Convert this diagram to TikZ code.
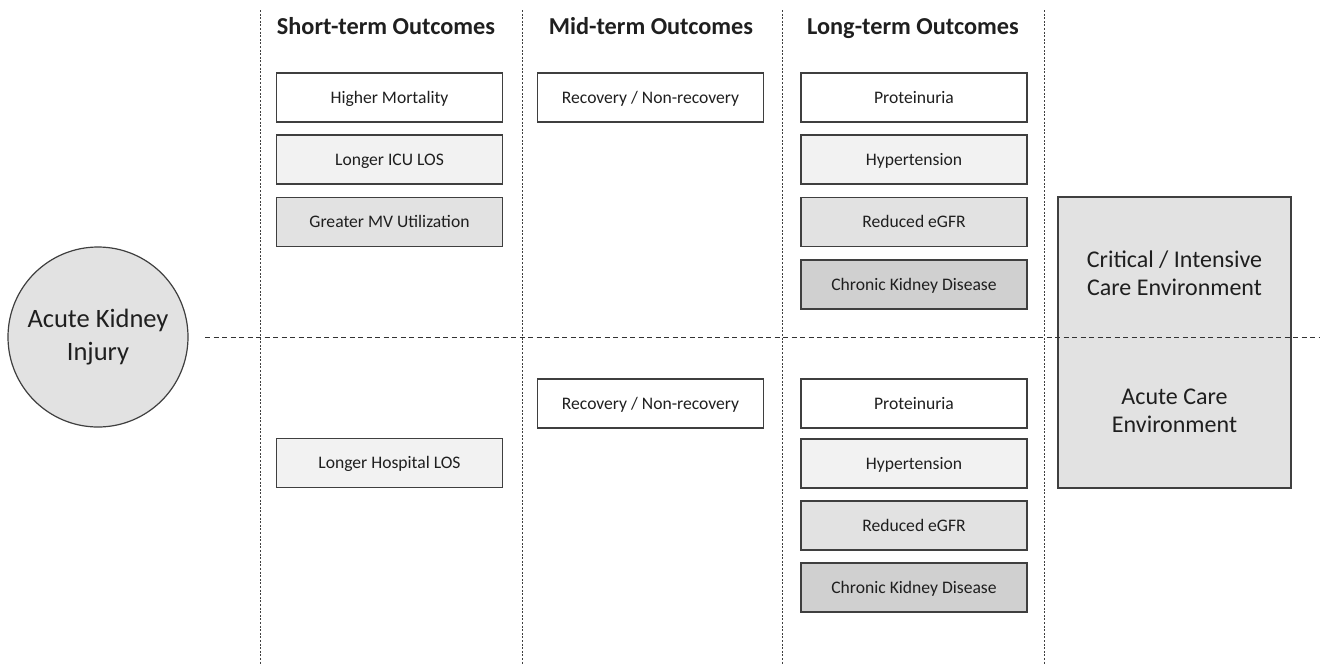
\documentclass[tikz,border=0pt]{standalone}
\usepackage{fontspec}
\setmainfont{Carlito}
\definecolor{edge}{HTML}{3F3F3F}
\definecolor{fillA}{HTML}{FFFFFF}
\definecolor{fillB}{HTML}{F2F2F2}
\definecolor{fillC}{HTML}{E2E2E2}
\definecolor{fillD}{HTML}{D0D0D0}
\begin{document}
\begin{tikzpicture}[x=1pt,y=-1pt,
  outbox/.style={draw=edge,line width=1.2pt,minimum width=226pt,minimum height=49pt,
    inner sep=0pt,text height=11.5pt,text depth=0pt,font=\fontsize{17.6}{20}\selectfont,text=black!88},
  header/.style={anchor=base,font=\bfseries\fontsize{24.3}{28}\selectfont,text=black!88},
  sep/.style={draw=black!75,line width=0.8pt,dash pattern=on 2pt off 1.6pt},
  divide/.style={draw=black!80,line width=1pt,dash pattern=on 5pt off 3.5pt}]
\useasboundingbox (0,0) rectangle (1320,665);
% column separators
\foreach \x/\n in {260/a,522/b,782/c,1044/d}{
  \coordinate (t\n) at (\x,10);
  \coordinate (b\n) at (\x,665);
  \draw[sep] (t\n) -- (b\n);
}
% horizontal divider between care settings
\coordinate (dl) at (205,337);
\coordinate (dr) at (1320,337);
% acute kidney injury
\node[circle,draw=edge,line width=1.2pt,fill=fillC,minimum size=180pt,inner sep=0pt,
  align=center,font=\fontsize{26.5}{33}\selectfont,text=black!88] (aki) at (98,337) {Acute Kidney\\Injury};
% column headings
\node[header] (hs) at (386,34) {Short-term Outcomes};
\node[header] (hm) at (651,34) {Mid-term Outcomes};
\node[header] (hl) at (913,34) {Long-term Outcomes};
% short-term outcomes
\node[outbox,fill=fillA] (s1) at (389.5,97.5) {Higher Mortality};
\node[outbox,fill=fillB] (s2) at (389.5,159.5) {Longer ICU LOS};
\node[outbox,fill=fillC] (s3) at (389.5,222) {Greater MV Utilization};
\node[outbox,fill=fillB] (s4) at (389.5,463) {Longer Hospital LOS};
% mid-term outcomes
\node[outbox,fill=fillA] (m1) at (650.5,97.5) {Recovery / Non-recovery};
\node[outbox,fill=fillA] (m2) at (650.5,403.5) {Recovery / Non-recovery};
% long-term outcomes, ICU setting
\node[outbox,fill=fillA] (l1) at (914,97.5) {Proteinuria};
\node[outbox,fill=fillB] (l2) at (914,159.5) {Hypertension};
\node[outbox,fill=fillC] (l3) at (914,222) {Reduced eGFR};
\node[outbox,fill=fillD] (l4) at (914,284.5) {Chronic Kidney Disease};
% long-term outcomes, acute care setting
\node[outbox,fill=fillA] (k1) at (914,403.5) {Proteinuria};
\node[outbox,fill=fillB] (k2) at (914,463.5) {Hypertension};
\node[outbox,fill=fillC] (k3) at (914,525.5) {Reduced eGFR};
\node[outbox,fill=fillD] (k4) at (914,587.5) {Chronic Kidney Disease};
% care environments
\node[draw=edge,line width=1.2pt,fill=fillC,minimum width=233pt,minimum height=291pt,inner sep=0pt] (env) at (1174.5,342.5) {};
\node[align=center,font=\fontsize{24}{28}\selectfont,text=black!88] (icu) at (1174.5,273) {Critical / Intensive\\Care Environment};
\node[align=center,font=\fontsize{24}{28}\selectfont,text=black!88] (acu) at (1174.5,411) {Acute Care\\Environment};
\draw[divide] (dl) -- (dr);
\end{tikzpicture}
\end{document}
